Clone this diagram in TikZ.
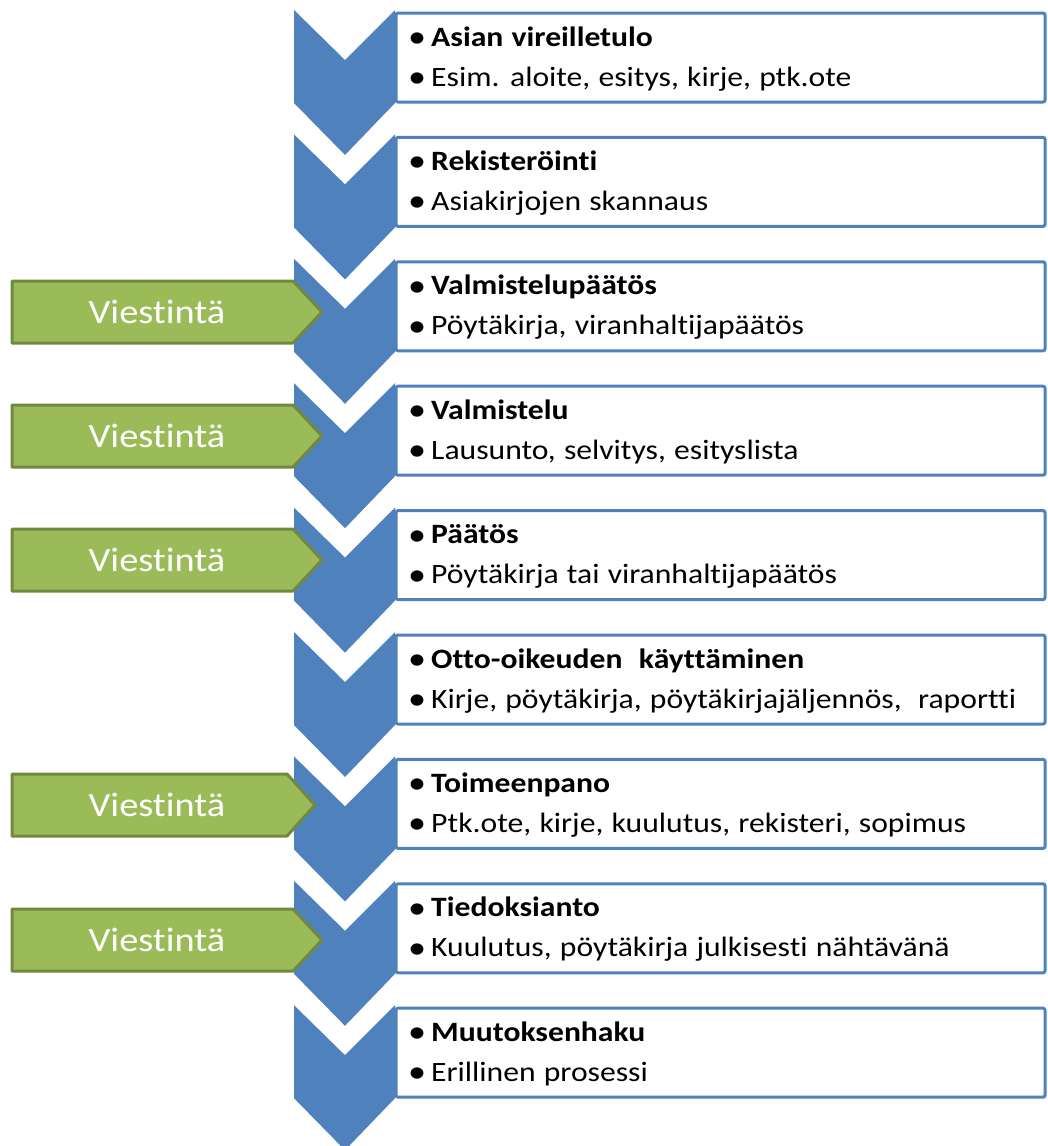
\documentclass[tikz,border=0pt]{standalone}
\usepackage{fontspec}
\setmainfont{Carlito}[FakeStretch=1.13, WordSpace=1.15, RawFeature=-liga]
\definecolor{chev}{HTML}{4F81BD}
\definecolor{gfill}{HTML}{9BBB59}
\definecolor{gline}{HTML}{71893F}
\tikzset{
  chevron/.style={fill=chev, draw=none},
  itembox/.style={draw=chev, line width=3pt, fill=white, rounded corners=2pt},
  itemtext/.style={anchor=base west, inner sep=0pt, font=\fontsize{28}{34}\selectfont, text=black},
  greenarrow/.style={fill=gfill, draw=gline, line width=3pt, line join=round},
  greentext/.style={text=white, font=\fontsize{34}{40}\selectfont, inner sep=0pt},
}
\newcommand{\blt}{\raisebox{-1.5pt}{\fontsize{32}{32}\selectfont\textbullet}\hspace{5pt}}
\begin{document}
\begin{tikzpicture}[x=1pt,y=-1pt]
\useasboundingbox (0,0) rectangle (1047,1146);
\foreach \ti/\su [count=\i from 0] in {
  {Asian vireilletulo}/{Esim. aloite, esitys, kirje, ptk.ote},
  {Rekisteröinti}/{Asiakirjojen skannaus},
  {Valmistelupäätös}/{Pöytäkirja, viranhaltijapäätös},
  {Valmistelu}/{Lausunto, selvitys, esityslista},
  {Päätös}/{Pöytäkirja tai viranhaltijapäätös},
  {Otto-oikeuden\ \ käyttäminen}/{Kirje, pöytäkirja, pöytäkirjajäljennös,\ \ raportti},
  {Toimeenpano}/{Ptk.ote, kirje, kuulutus, rekisteri, sopimus},
  {Tiedoksianto}/{Kuulutus, pöytäkirja julkisesti nähtävänä},
  {Muutoksenhaku}/{Erillinen prosessi}}{
  \pgfmathsetmacro{\t}{10+124.4*\i}
  \path[chevron] (294,\t) -- (345,\t+50) -- (395,\t) -- (395,\t+93)
     -- (345,\t+145) -- (294,\t+93) -- cycle;
  \draw[itembox] (396,\t+3) rectangle (1045,\t+92);
  \coordinate (box\i) at (396,\t+3);
  \node[itemtext] (title\i) at (408,\t+36) {\blt\textbf{\ti}};
  \node[itemtext] (sub\i) at (408,\t+76) {\blt\su};
}
\foreach \yc/\r/\tp [count=\j] in {312/293/322, 436/293/322, 560/293/322, 805/287/315, 940/293/322}{
  \path[greenarrow] (12,\yc-31) -- (\r,\yc-31) -- (\tp,\yc) -- (\r,\yc+31)
     -- (12,\yc+31) -- cycle;
  \node[greentext] (v\j) at (157,\yc) {Viestintä};
}
\end{tikzpicture}
\end{document}
